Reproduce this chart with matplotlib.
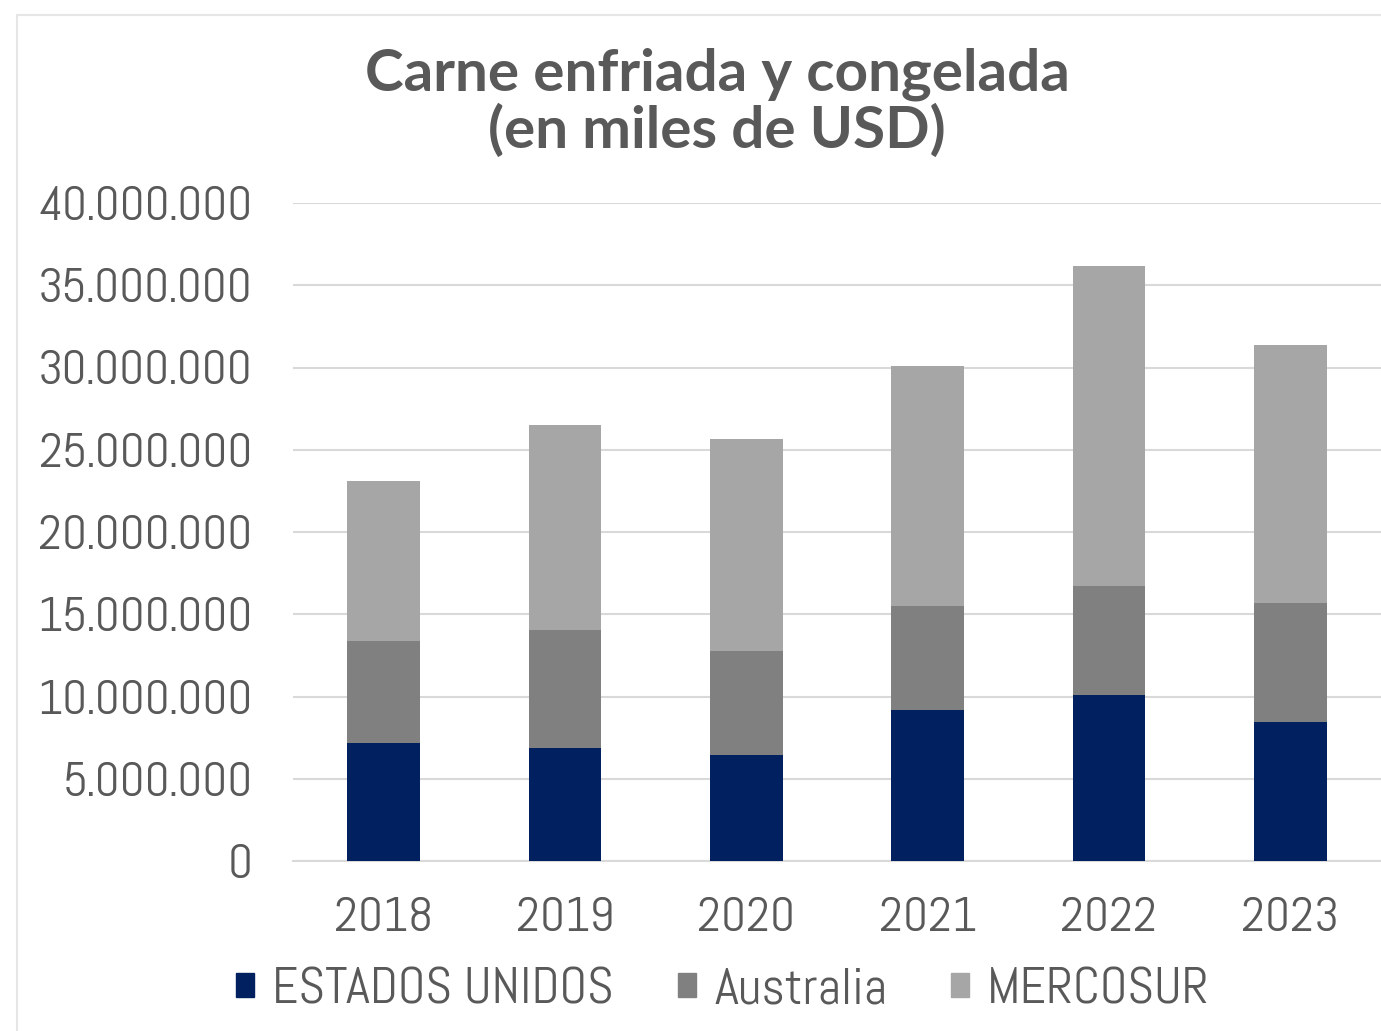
import matplotlib.pyplot as plt
from matplotlib.ticker import FuncFormatter, MultipleLocator
from matplotlib.patches import Rectangle, Patch

years = ["2018", "2019", "2020", "2021", "2022", "2023"]
estados_unidos = [7.17e6, 6.87e6, 6.44e6, 9.18e6, 10.09e6, 8.45e6]
australia = [6.20e6, 7.17e6, 6.33e6, 6.32e6, 6.63e6, 7.23e6]
mercosur = [9.73e6, 12.46e6, 12.88e6, 14.59e6, 19.45e6, 15.69e6]

series_names = ["ESTADOS UNIDOS", "Australia", "MERCOSUR"]
colors = ["#002060", "#808080", "#A6A6A6"]
txt = "#595959"
tick_font = ["Abel", "DejaVu Sans"]

fig = plt.figure(figsize=(13.81, 10.31), dpi=100)
fig.patches.append(Rectangle((17 / 1381, -0.1), 1.2, 1 - 15 / 1031 + 0.1,
                             transform=fig.transFigure, fill=False,
                             edgecolor="#E6E6E6", lw=1.5))
ax = fig.add_axes([293 / 1381, 1 - 861 / 1031, 1 - 293 / 1381, (861 - 203) / 1031])

x = range(len(years))
bottom2 = [a + b for a, b in zip(estados_unidos, australia)]
ax.bar(x, estados_unidos, width=0.4, color=colors[0], zorder=3)
ax.bar(x, australia, width=0.4, bottom=estados_unidos, color=colors[1], zorder=3)
ax.bar(x, mercosur, width=0.4, bottom=bottom2, color=colors[2], zorder=3)

ax.set_xlim(-0.5, len(years) - 0.5)
ax.set_ylim(0, 40e6)
ax.yaxis.set_major_locator(MultipleLocator(5e6))
ax.yaxis.set_major_formatter(FuncFormatter(lambda v, p: f"{int(v):,}".replace(",", ".")))
ax.set_xticks(list(x))
ax.set_xticklabels(years)
ax.grid(axis="y", color="#D9D9D9", lw=1.5, zorder=0)
for s in ["top", "right", "left"]:
    ax.spines[s].set_visible(False)
ax.spines["bottom"].set_color("#D9D9D9")
ax.spines["bottom"].set_linewidth(1.5)
ax.tick_params(length=0, labelcolor=txt, labelsize=35)
ax.tick_params(axis="y", pad=29)
ax.tick_params(axis="x", pad=26)
for lab in ax.get_xticklabels() + ax.get_yticklabels():
    lab.set_fontfamily(tick_font)

fig.text(717 / 1381, 1 - 103 / 1031, "Carne enfriada y congelada\n(en miles de USD)",
         ha="center", va="center", fontsize=42, fontweight="bold", color=txt,
         family="Lato", linespacing=1.05)

handles = [Patch(color=c) for c in colors]
fig.legend(handles, series_names, loc="center", bbox_to_anchor=(723 / 1381, 1 - 990 / 1031),
           ncol=3, frameon=False, handlelength=0.34, handleheight=0.34, handletextpad=0.36,
           columnspacing=1.25, prop={"family": tick_font, "size": 37}, labelcolor=txt)

fig.savefig("out.png", dpi=100)
